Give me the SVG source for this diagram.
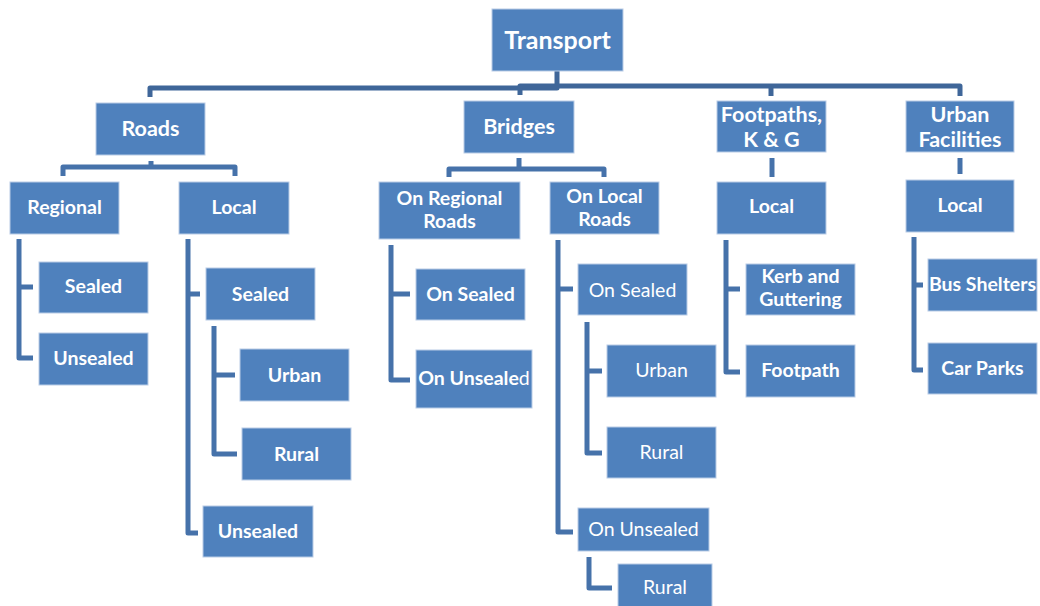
<svg xmlns="http://www.w3.org/2000/svg" width="1040" height="606" viewBox="0 0 1040 606">
<style>
.b{fill:#4F81BD;stroke:#B9CCE6;stroke-width:1}
.t{font-family:Lato,"Open Sans","Liberation Sans",sans-serif;font-weight:bold;fill:#fff;text-anchor:middle;font-size:19.5px}
.r{font-weight:normal}
.l2{font-size:21.5px}
.l1{font-size:25px}
.c{fill:none;stroke:#4672AA;stroke-width:5;stroke-linejoin:round;stroke-linecap:butt}
.ct{stroke:#3F6699}
</style>
<rect width="1040" height="606" fill="#fff"/>
<g id="connectors">
<path class="c ct" d="M150,97 V88 H557 V71"/>
<path class="c ct" d="M520,95 V86 H960 V96"/>
<path class="c ct" d="M771,86 V96"/>
<path class="c" d="M63,176 V167 H235 V176 M151,161 V167"/>
<path class="c" d="M449,177 V169 H604 V177 M519,158 V169"/>
<path class="c" d="M772,158 V177"/>
<path class="c" d="M960,158 V174"/>
<path class="c" d="M19,239 V358 H33 M19,287 H33"/>
<path class="c" d="M188,239 V533 H198 M188,294 H200"/>
<path class="c" d="M214,326 V454 H237 M214,375 H235"/>
<path class="c" d="M391,245 V380 H410 M391,294 H410"/>
<path class="c" d="M558,240 V532 H573 M558,289 H573"/>
<path class="c" d="M587,322 V453 H602 M587,371 H602"/>
<path class="c" d="M589,557 V588 H612"/>
<path class="c" d="M726,240 V372 H740 M726,289 H740"/>
<path class="c" d="M914,237 V370 H923 M914,285 H923"/>
</g>
<g id="transport"><rect class="b" x="492" y="9" width="131" height="62"/><text class="t l1" x="557.5" y="49">Transport</text></g>
<g id="roads"><rect class="b" x="96" y="103" width="109" height="52"/><text class="t l2" x="150.5" y="136">Roads</text></g>
<g id="bridges"><rect class="b" x="464" y="101" width="110" height="52"/><text class="t l2" x="519" y="134">Bridges</text></g>
<g id="footpaths"><rect class="b" x="717" y="101" width="109" height="51"/><text class="t l2" x="771.5" y="122">Footpaths,</text><text class="t l2" x="771.5" y="147">K &amp; G</text></g>
<g id="urban-facilities"><rect class="b" x="906" y="101" width="108" height="51"/><text class="t l2" x="960" y="122">Urban</text><text class="t l2" x="960" y="147">Facilities</text></g>
<g id="roads-regional"><rect class="b" x="10" y="182" width="109" height="52"/><text class="t" x="64.5" y="214">Regional</text></g>
<g id="roads-local"><rect class="b" x="179" y="182" width="110" height="52"/><text class="t" x="234" y="214">Local</text></g>
<g id="bridges-regional"><rect class="b" x="379" y="182" width="141" height="57"/><text class="t" x="449.5" y="205">On Regional</text><text class="t" x="449.5" y="228">Roads</text></g>
<g id="bridges-local"><rect class="b" x="550" y="182" width="109" height="52"/><text class="t" x="604.5" y="203">On Local</text><text class="t" x="604.5" y="226">Roads</text></g>
<g id="footpaths-local"><rect class="b" x="717" y="182" width="109" height="52"/><text class="t" x="771.5" y="213">Local</text></g>
<g id="urban-local"><rect class="b" x="906" y="180" width="108" height="52"/><text class="t" x="960" y="212">Local</text></g>
<g id="regional-sealed"><rect class="b" x="39" y="262" width="109" height="51"/><text class="t" x="93.5" y="293">Sealed</text></g>
<g id="regional-unsealed"><rect class="b" x="39" y="333" width="109" height="52"/><text class="t" x="93.5" y="365">Unsealed</text></g>
<g id="local-sealed"><rect class="b" x="206" y="268" width="109" height="52"/><text class="t" x="260.5" y="301">Sealed</text></g>
<g id="local-sealed-urban"><rect class="b" x="240" y="349" width="109" height="52"/><text class="t" x="294.5" y="382">Urban</text></g>
<g id="local-sealed-rural"><rect class="b" x="242" y="428" width="109" height="52"/><text class="t" x="296.5" y="461">Rural</text></g>
<g id="local-unsealed"><rect class="b" x="203" y="506" width="110" height="51"/><text class="t" x="258" y="538">Unsealed</text></g>
<g id="bridge-reg-sealed"><rect class="b" x="416" y="269" width="109" height="51"/><text class="t" x="470.5" y="301">On Sealed</text></g>
<g id="bridge-reg-unsealed"><rect class="b" x="416" y="350" width="116" height="58"/><text class="t" x="474" y="385">On Unseale<tspan class="r">d</tspan></text></g>
<g id="bridge-local-sealed"><rect class="b" x="578" y="264" width="109" height="51"/><text class="t r" x="632.5" y="297">On Sealed</text></g>
<g id="bridge-local-sealed-urban"><rect class="b" x="607" y="345" width="109" height="52"/><text class="t r" x="661.5" y="377">Urban</text></g>
<g id="bridge-local-sealed-rural"><rect class="b" x="607" y="427" width="109" height="51"/><text class="t r" x="661.5" y="459">Rural</text></g>
<g id="bridge-local-unsealed"><rect class="b" x="578" y="508" width="131" height="43"/><text class="t r" x="643.5" y="536">On Unsealed</text></g>
<g id="bridge-local-unsealed-rural"><rect class="b" x="618" y="564" width="94" height="50"/><text class="t r" x="665" y="594">Rural</text></g>
<g id="kerb"><rect class="b" x="746" y="264" width="109" height="51"/><text class="t" x="800.5" y="283">Kerb and</text><text class="t" x="800.5" y="306">Guttering</text></g>
<g id="footpath"><rect class="b" x="746" y="345" width="109" height="52"/><text class="t" x="800.5" y="377">Footpath</text></g>
<g id="bus-shelters"><rect class="b" x="928" y="259" width="109" height="52"/><text class="t" x="982.5" y="291">Bus Shelters</text></g>
<g id="car-parks"><rect class="b" x="928" y="343" width="109" height="51"/><text class="t" x="982.5" y="375">Car Parks</text></g>
</svg>
